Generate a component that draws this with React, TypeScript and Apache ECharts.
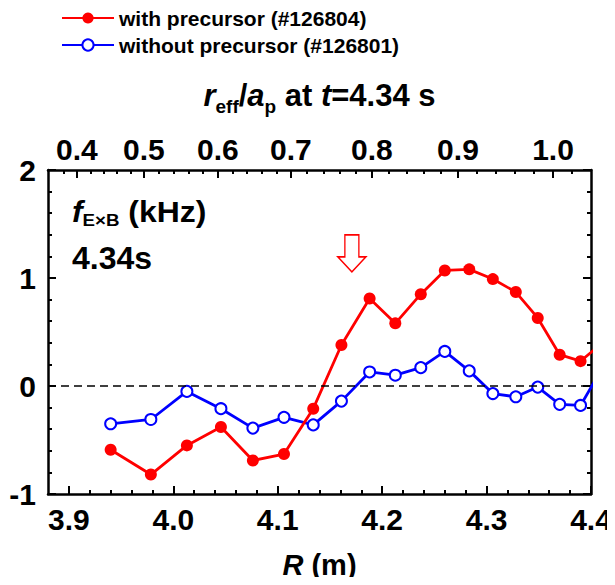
import React, { useEffect, useRef } from "react";
import * as echarts from "echarts";

// Major radius R (m) of each measurement channel
const R = [3.940, 3.9785, 4.013, 4.0456, 4.0762, 4.106, 4.134, 4.161, 4.188, 4.2126, 4.237, 4.260, 4.2834, 4.306, 4.328, 4.349, 4.370, 4.390, 4.411];
// f_ExB (kHz)
const withPrecursor = [-0.59, -0.82, -0.55, -0.38, -0.69, -0.63, -0.21, 0.38, 0.81, 0.58, 0.85, 1.07, 1.08, 0.99, 0.87, 0.63, 0.29, 0.23, 0.40];
const withoutPrecursor = [-0.35, -0.31, -0.05, -0.21, -0.39, -0.29, -0.36, -0.14, 0.13, 0.10, 0.17, 0.32, 0.14, -0.07, -0.10, -0.01, -0.17, -0.18, 0.17];

// bottom axis ticks (R)
const bottomTicks = [3.9, 4.0, 4.1, 4.2, 4.3, 4.4];
// top axis: R position of each r_eff/a_p tick
const topTickLabels = ["0.4", "0.5", "0.6", "0.7", "0.8", "0.9", "1.0"];
const topTickR = [3.9077, 3.9718, 4.0427, 4.1126, 4.1902, 4.2726, 4.3636];

// arrow annotation position (R, f)
const arrowAt = [4.171, 1.227];

const names = ["with precursor (#126804)", "without precursor (#126801)"];
const FONT = "Liberation Sans, Arial, sans-serif";
const X_MIN = 3.88;
const X_MAX = 4.4;

function bottomMinor(): number[] {
  const out: number[] = [];
  for (let i = 0; i < bottomTicks.length - 1; i++) {
    for (let k = 1; k < 5; k++) out.push(+(bottomTicks[i] + (k * (bottomTicks[i + 1] - bottomTicks[i])) / 5).toFixed(4));
  }
  return out;
}
function topMinor(): number[] {
  const out: number[] = [];
  const n = topTickR.length;
  const g0 = (topTickR[1] - topTickR[0]) / 5;
  for (let k = 1; k < 5; k++) {
    const v = topTickR[0] - k * g0;
    if (v > X_MIN + 0.003) out.push(v);
  }
  for (let i = 0; i < n - 1; i++) {
    for (let k = 1; k < 5; k++) out.push(topTickR[i] + (k * (topTickR[i + 1] - topTickR[i])) / 5);
  }
  const gl = (topTickR[n - 1] - topTickR[n - 2]) / 5;
  for (let k = 1; k < 5; k++) {
    const v = topTickR[n - 1] + k * gl;
    if (v < X_MAX - 0.003) out.push(v);
  }
  return out;
}

export default function App() {
  const ref = useRef<HTMLDivElement>(null);
  useEffect(() => {
    if (!ref.current) return;
    const chart = echarts.init(ref.current, null, { renderer: "svg" });
    const axisLine = { show: true, onZero: false, lineStyle: { color: "#000", width: 2.5 } };
    const labelFont = { fontFamily: FONT, fontWeight: "bold" as const, fontSize: 30, color: "#000" };
    const option: any = {
      animation: false,
      backgroundColor: "#fff",
      textStyle: { fontFamily: FONT },
      grid: { left: 48, right: 24, top: 170, bottom: 91, containLabel: false },
      legend: {
        orient: "vertical",
        left: 56,
        top: 1,
        itemWidth: 52,
        itemHeight: 14,
        itemGap: 3,
        data: names,
        textStyle: { fontFamily: FONT, fontWeight: "bold", fontSize: 21, color: "#000", lineHeight: 24 },
      },
      xAxis: [
        {
          type: "value",
          position: "bottom",
          min: X_MIN,
          max: X_MAX,
          axisLine,
          splitLine: { show: false },
          axisTick: { show: true, inside: true, length: 8, customValues: bottomTicks, lineStyle: { color: "#000", width: 2 } },
          axisLabel: { ...labelFont, margin: 10, customValues: bottomTicks, formatter: (v: number) => v.toFixed(1) },
          name: "{i|R} (m)",
          nameLocation: "middle",
          nameGap: 56,
          nameTextStyle: {
            ...labelFont,
            fontSize: 29,
            rich: { i: { fontFamily: FONT, fontWeight: "bold", fontStyle: "italic", fontSize: 29, color: "#000" } },
          },
        },
        {
          type: "value",
          position: "top",
          min: X_MIN,
          max: X_MAX,
          axisLine,
          splitLine: { show: false },
          axisTick: { show: true, inside: true, length: 8, customValues: topTickR, lineStyle: { color: "#000", width: 2 } },
          axisLabel: {
            ...labelFont,
            margin: 6,
            customValues: topTickR,
            formatter: (v: number) => {
              let best = 0;
              for (let i = 0; i < topTickR.length; i++) if (Math.abs(topTickR[i] - v) < Math.abs(topTickR[best] - v)) best = i;
              return topTickLabels[best];
            },
          },
          name: "{i|r}{sub|eff}{n|/}{i|a}{sub|p}{n| at }{i|t}{n|=4.34 s}",
          nameLocation: "middle",
          nameGap: 54,
          nameTextStyle: {
            ...labelFont,
            fontSize: 31,
            rich: {
              i: { fontFamily: FONT, fontWeight: "bold", fontStyle: "italic", fontSize: 31, color: "#000", lineHeight: 42 },
              n: { fontFamily: FONT, fontWeight: "bold", fontSize: 31, color: "#000", lineHeight: 42 },
              sub: { fontFamily: FONT, fontWeight: "bold", fontSize: 19, color: "#000", padding: [22, 0, 0, 0] },
            },
          },
        },
        {
          type: "value",
          position: "bottom",
          min: X_MIN,
          max: X_MAX,
          axisLine: { show: false, onZero: false },
          splitLine: { show: false },
          axisLabel: { show: false },
          axisTick: { show: true, inside: true, length: 4, customValues: bottomMinor(), lineStyle: { color: "#000", width: 2 } },
        },
        {
          type: "value",
          position: "top",
          min: X_MIN,
          max: X_MAX,
          axisLine: { show: false, onZero: false },
          splitLine: { show: false },
          axisLabel: { show: false },
          axisTick: { show: true, inside: true, length: 4, customValues: topMinor(), lineStyle: { color: "#000", width: 2 } },
        },
      ],
      yAxis: [
        {
          type: "value",
          position: "left",
          min: -1,
          max: 2,
          interval: 1,
          axisLine,
          splitLine: { show: false },
          axisTick: { show: true, inside: true, length: 8, lineStyle: { color: "#000", width: 2 } },
          minorTick: { show: true, splitNumber: 5, length: 4, lineStyle: { color: "#000", width: 2 } },
          axisLabel: { ...labelFont, margin: 12 },
        },
        {
          type: "value",
          position: "right",
          min: -1,
          max: 2,
          interval: 1,
          axisLine,
          splitLine: { show: false },
          axisTick: { show: true, inside: true, length: 8, lineStyle: { color: "#000", width: 2 } },
          minorTick: { show: true, splitNumber: 5, length: 4, lineStyle: { color: "#000", width: 2 } },
          axisLabel: { show: false },
        },
      ],
      graphic: [
        {
          type: "text",
          x: 72,
          y: 194,
          scaleX: 1.1,
          style: {
            text: "{f|f}{sub|E×B}{n| (kHz)}",
            rich: {
              f: { fontFamily: FONT, fontWeight: "bold", fontStyle: "italic", fontSize: 29, fill: "#000", lineHeight: 34 },
              n: { fontFamily: FONT, fontWeight: "bold", fontSize: 29, fill: "#000", lineHeight: 34 },
              sub: { fontFamily: FONT, fontWeight: "bold", fontSize: 17, fill: "#000", padding: [18, 0, 0, 0] },
            },
          },
        },
        {
          type: "text",
          x: 72,
          y: 242,
          style: { text: "4.34s", fontFamily: FONT, fontWeight: "bold", fontSize: 32, fill: "#000" },
        },
      ],
      series: [
        {
          name: names[1],
          type: "line",
          xAxisIndex: 0,
          yAxisIndex: 0,
          data: R.map((r, i) => [r, withoutPrecursor[i]]),
          symbol: "emptyCircle",
          symbolSize: 11,
          clip: true,
          lineStyle: { color: "#0000ff", width: 2.8 },
          itemStyle: { color: "#0000ff", borderWidth: 2.2, borderColor: "#0000ff" },
          markLine: {
            silent: true,
            symbol: ["none", "none"],
            label: { show: false },
            lineStyle: { type: [8, 5], color: "#000", width: 1.5 },
            data: [{ yAxis: 0 }],
          },
          z: 2,
        },
        {
          name: names[0],
          type: "line",
          xAxisIndex: 0,
          yAxisIndex: 0,
          data: R.map((r, i) => [r, withPrecursor[i]]),
          symbol: "circle",
          symbolSize: 12,
          clip: true,
          lineStyle: { color: "#ff0000", width: 2.8 },
          itemStyle: { color: "#ff0000" },
          markPoint: {
            silent: true,
            symbol: "path://M7,0 L21,0 L21,22 L28,22 L14,37 L0,22 L7,22 Z",
            symbolSize: [28, 37],
            label: { show: false },
            itemStyle: { color: "#ffffff", borderColor: "#ff0000", borderWidth: 1.5 },
            data: [{ coord: arrowAt }],
          },
          z: 3,
        },
      ],
    };
    chart.setOption(option);
    return () => chart.dispose();
  }, []);
  return <div ref={ref} style={{ width: 615, height: 585, margin: -8 }} />;
}
